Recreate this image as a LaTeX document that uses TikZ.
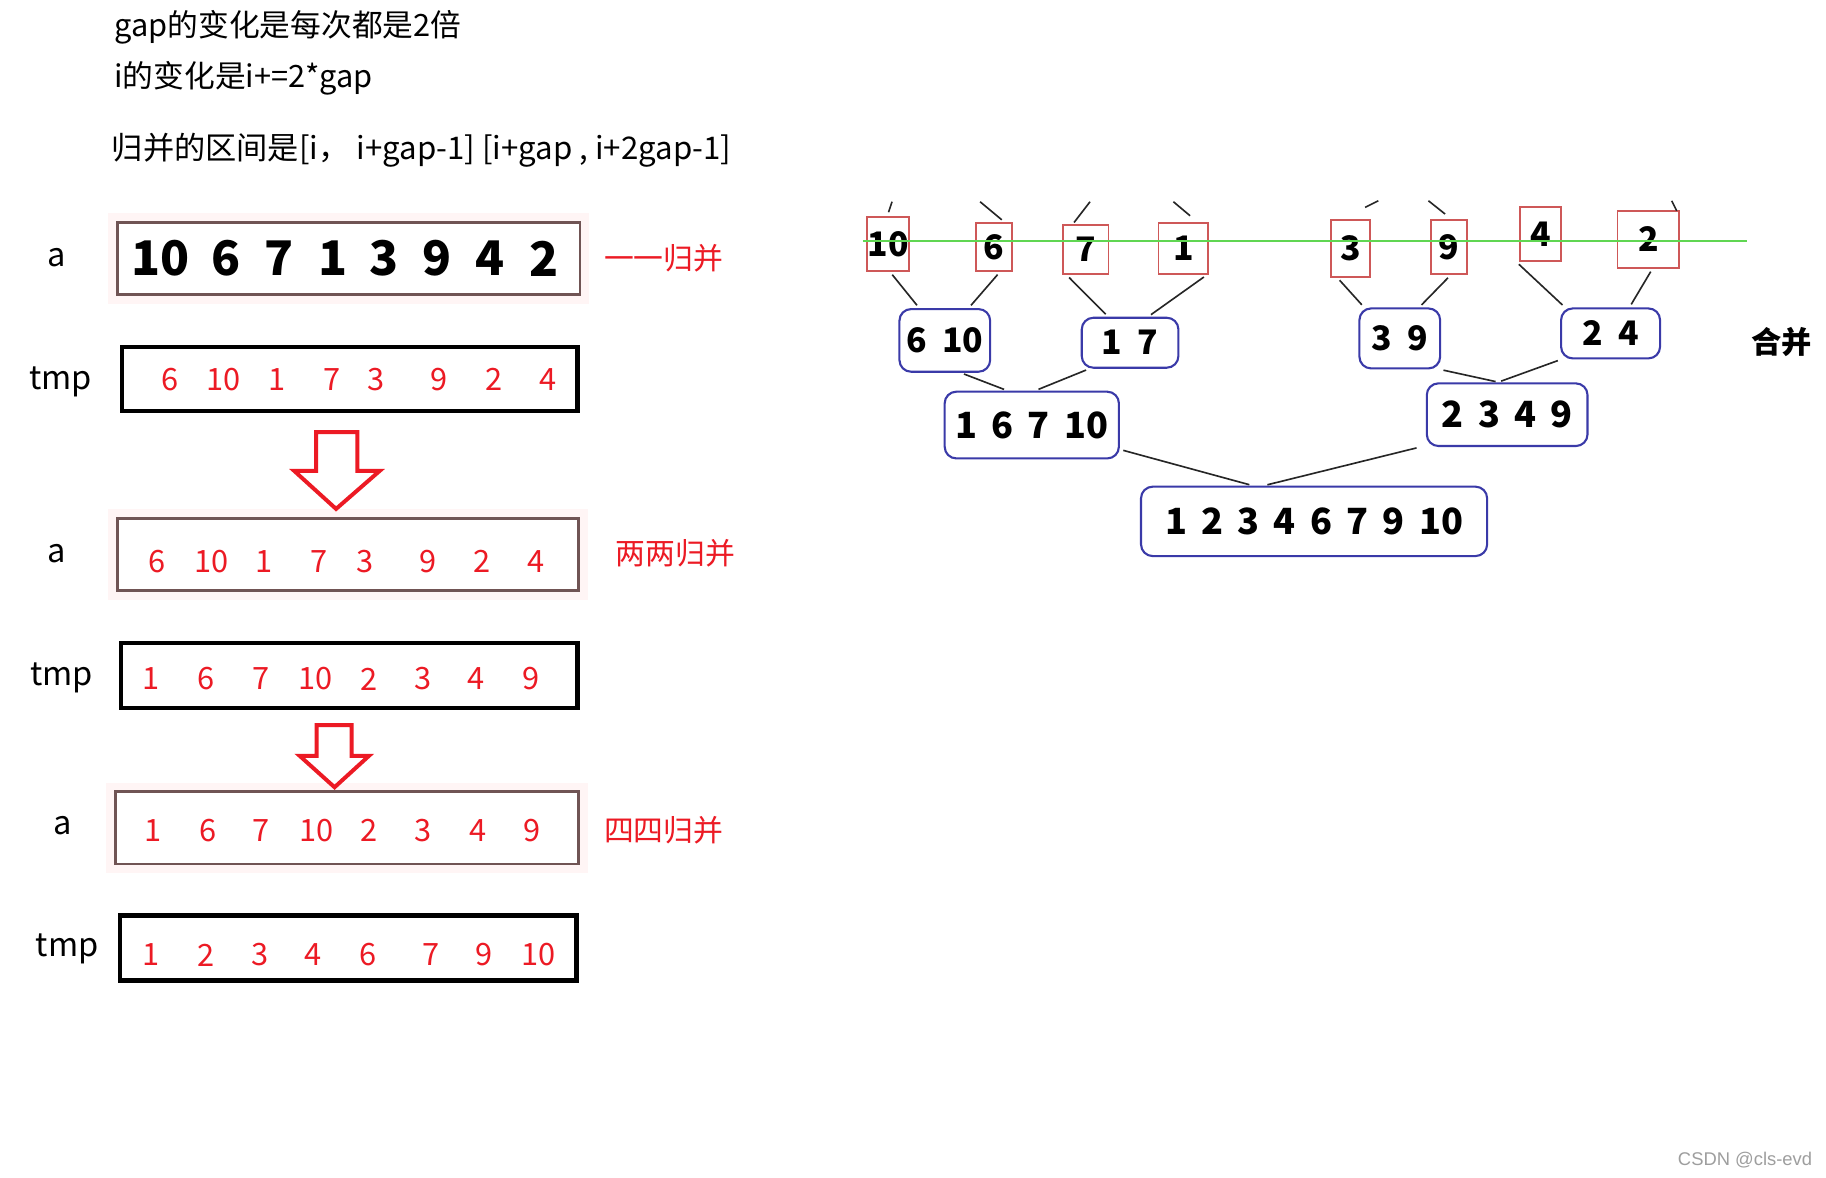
\documentclass[tikz,border=0pt]{standalone}
\usepackage{fontspec}
\setmainfont{Noto Sans CJK SC}
\newfontfamily\wmfont{Liberation Sans}
\usepackage{tikz}
\usetikzlibrary{calc}
\definecolor{numred}{RGB}{236,26,36}
\definecolor{edgebrown}{RGB}{112,84,84}
\definecolor{leafred}{RGB}{206,88,88}
\definecolor{roundblue}{RGB}{58,58,168}
\definecolor{cutgreen}{RGB}{96,214,82}
\def\px{0.5pt}
\tikzset{
    lbl/.style={inner sep=0pt, font=\fontsize{14}{16}\selectfont}, % 左侧 a / tmp 标签
    note/.style={inner sep=0pt, text=numred, font=\fontsize{12.8}{15}\selectfont}, % 红色说明文字
    abox/.style={draw=edgebrown, line width=1.2pt, fill=white, preaction={draw=red!4, line width=8pt}}, % 数组 a 的框
    tbox/.style={draw=black, line width=1.9pt}, % tmp 的框
    rnum/.style={text=numred, inner sep=0pt, font=\fontsize{13.2}{15}\selectfont},
    bnum/.style={inner sep=0pt, font=\bfseries\fontsize{20.5}{22}\selectfont},
    hollow/.style={draw=numred, line width=1.7pt, line join=miter}, % 空心箭头
    leaf/.style={draw=leafred, line width=0.8pt, fill=white, inner sep=0pt, font=\bfseries\fontsize{14.5}{16}\selectfont},
    rbox/.style={draw=roundblue, line width=0.9pt, rounded corners=5pt, fill=white, inner sep=0pt, font=\bfseries\fontsize{14.5}{16}\selectfont},
    lowbox/.style={rbox, font=\bfseries\fontsize{15.5}{17}\selectfont},
    link/.style={line width=0.7pt, black!85, shorten <=1.5pt, shorten >=1.5pt}
}

\begin{document}
\begin{tikzpicture}[x=0.5pt, y=-0.5pt]
    \fill[white] (0,0) rectangle (1568,1011);
    \useasboundingbox (0,0) rectangle (1568,1011);

    % 说明文字
    \node[lbl, anchor=west, font=\fontsize{13.2}{15}\selectfont] (t1) at (97.8,23.8) {gap的变化是每次都是2倍};
    \node[lbl, anchor=west, font=\fontsize{13.2}{15}\selectfont] (t2) at (97.8,67.3) {i的变化是i+=2*gap};
    \node[lbl, anchor=west, font=\fontsize{13.4}{15}\selectfont] (t3) at (95.7,129.4) {归并的区间是[i， i+gap-1] [i+gap , i+2gap-1]};

    % 左边: a 与 tmp
    \node[abox, minimum width=397*\px, minimum height=62*\px] (a1) at (299.5,222) {};
    \node[tbox, minimum width=391*\px, minimum height=55*\px] (m1) at (300.5,325.5) {};
    \node[abox, minimum width=396*\px, minimum height=62*\px] (a2) at (299,476) {};
    \node[tbox, minimum width=392*\px, minimum height=56*\px] (m2) at (300,580) {};
    \node[abox, minimum width=398*\px, minimum height=62*\px] (a3) at (298,711) {};
    \node[tbox, minimum width=392*\px, minimum height=56*\px] (m3) at (299,814) {};

    \node[lbl] (la1) at (49,221.6) {a};
    \node[lbl] (lm1) at (52,328) {tmp};
    \node[lbl] (la2) at (49,475) {a};
    \node[lbl] (lm2) at (53,582) {tmp};
    \node[lbl] (la3) at (53.6,708.6) {a};
    \node[lbl] (lm3) at (57.7,814.7) {tmp};

    \foreach \x/\v [count=\i] in {138/10,194/6,240/7,286/1,330/3,375/9,421/4,467/2}
        \node[bnum] (a1n\i) at (\x,222) {\v};
    \foreach \x/\v [count=\i] in {145.6/6,192.3/10,237.7/1,284.7/7,323/3,377/9,424/2,470.6/4}
        \node[rnum] (m1n\i) at (\x,326) {\v};
    \foreach \x/\v [count=\i] in {135/6,182/10,227/1,274/7,313.5/3,367.7/9,414/2,460.6/4}
        \node[rnum] (a2n\i) at (\x,482) {\v};
    \foreach \x/\v [count=\i] in {130/1,177/6,224/7,271/10,317/2,363/3,409/4,456/9}
        \node[rnum] (m2n\i) at (\x,583) {\v};
    \foreach \x/\v [count=\i] in {131/1,178.6/6,224.4/7,271.5/10,317.3/2,363.6/3,410.7/4,456.5/9}
        \node[rnum] (a3n\i) at (\x,713) {\v};
    \foreach \x/\v [count=\i] in {129.4/1,177/2,223/3,269/4,315.7/6,369.8/7,415.7/9,462.7/10}
        \node[rnum] (m3n\i) at (\x,820) {\v};

    \node[note] (n1) at (570,221.6) {一一归并};
    \node[note] (n2) at (579.8,475) {两两归并};
    \node[note] (n3) at (570,712.9) {四四归并};

    \draw[hollow] (271.4,371) -- (306.8,371) -- (306.8,404.4) -- (326,404.4) -- (288.6,437) -- (252.7,404.4) -- (271.4,404.4) -- cycle;
    \draw[hollow] (271.9,622.6) -- (301.9,622.6) -- (301.9,649) -- (316.9,649) -- (287.3,676) -- (257.3,649) -- (271.9,649) -- cycle;

    % 右边: 归并树
    \foreach \n/\x/\y/\w/\h/\v in {l10/762.7/209.7/35.8/46.1/10, l6/853.6/212/31.4/41.5/6, l7/932.5/214.3/38.7/42.1/7, l1/1016.2/213.3/42.9/44.1/1,
                                   l3/1159.8/213.3/33.5/48.6/3, l9/1244/212.3/30.9/46.6/9, l4/1322.8/201/34.9/46.1/4, l2/1415.5/205.4/53.2/49/2}
        \node[leaf, minimum width=\w*\px, minimum height=\h*\px] (\n) at (\x,\y) {\v};
    \foreach \n/\x/\y/\w/\h/\v in {m610/811.3/292.3/77.9/53.8/6~~10, m17/970.4/294.3/83/42.9/1~~7,
                                   m39/1202/290.6/69.3/51.5/3~~9, m24/1383/286.3/85/42.9/2~~4}
        \node[rbox, minimum width=\w*\px, minimum height=\h*\px] (\n) at (\x,\y) {\v};
    \node[lowbox, minimum width=149.6*\px, minimum height=57.3*\px] (m16710) at (886,365) {1~\,6~\,7~\,10};
    \node[lowbox, minimum width=138*\px, minimum height=53.8*\px] (m2349) at (1294.2,356.1) {2~\,3~\,4~\,9};
    \node[lowbox, minimum width=297.2*\px, minimum height=59.6*\px] (fin) at (1128.4,447.7) {1~\,2~\,3~\,4~\,6~\,7~\,9~\,10};

    \foreach \a/\da/\b/\db in {l10/1.6/m610/-22, l6/5/m610/20.5, l7/-16.6/m17/-18.8, l1/20/m17/15.5,
                               l3/-11.5/m39/-30.6, l9/1.5/m39/16.6, l4/-20.8/m24/-39.1, l2/3.5/m24/16.2,
                               m610/13.7/m16710/-21, m17/-35/m16710/3, m39/34.6/m2349/-7, m24/-42.5/m2349/-8}
        \draw[link] ($(\a.south)+(\da,0)$) -- ($(\b.north)+(\db,0)$);
    \draw[link] ($(m16710.south east)+(0,-8.6)$) -- ($(fin.north)+(-52.7,0)$);
    \draw[link] ($(m2349.south west)+(-5,0)$) -- ($(fin.north)+(-43,0)$);

    % 被截断的上层连线
    \foreach \n/\ax/\ay/\bx/\by in {l10/3.3/-12.6/0.3/-3.6, l6/-12/-17.2/6.6/-1.7, l7/3.5/-19.2/-10.2/-1.4, l1/-8.6/-17.2/5.7/-5.2,
                                    l3/23.8/-15.8/12.4/-10.1, l9/-17.4/-15.8/-3.1/-4.4, l2/20/-7.7/24.3/0.9}
        \draw[line width=0.7pt, black!85] ($(\n.north)+(\ax,\ay)$) -- ($(\n.north)+(\bx,\by)$);

    \coordinate (gl) at (741,206.7);
    \coordinate (gr) at (1500,206.7);
    \draw[cutgreen, line width=0.85pt] (gl) -- (gr);

    \node[inner sep=0pt, font=\bfseries\fontsize{13}{15}\selectfont] (hb) at (1530,294) {合并};
    \node[inner sep=0pt, text=black!38, font=\wmfont\fontsize{7.9}{9}\selectfont] (wm) at (1498.5,996) {CSDN @cls-evd};
\end{tikzpicture}
\end{document}
